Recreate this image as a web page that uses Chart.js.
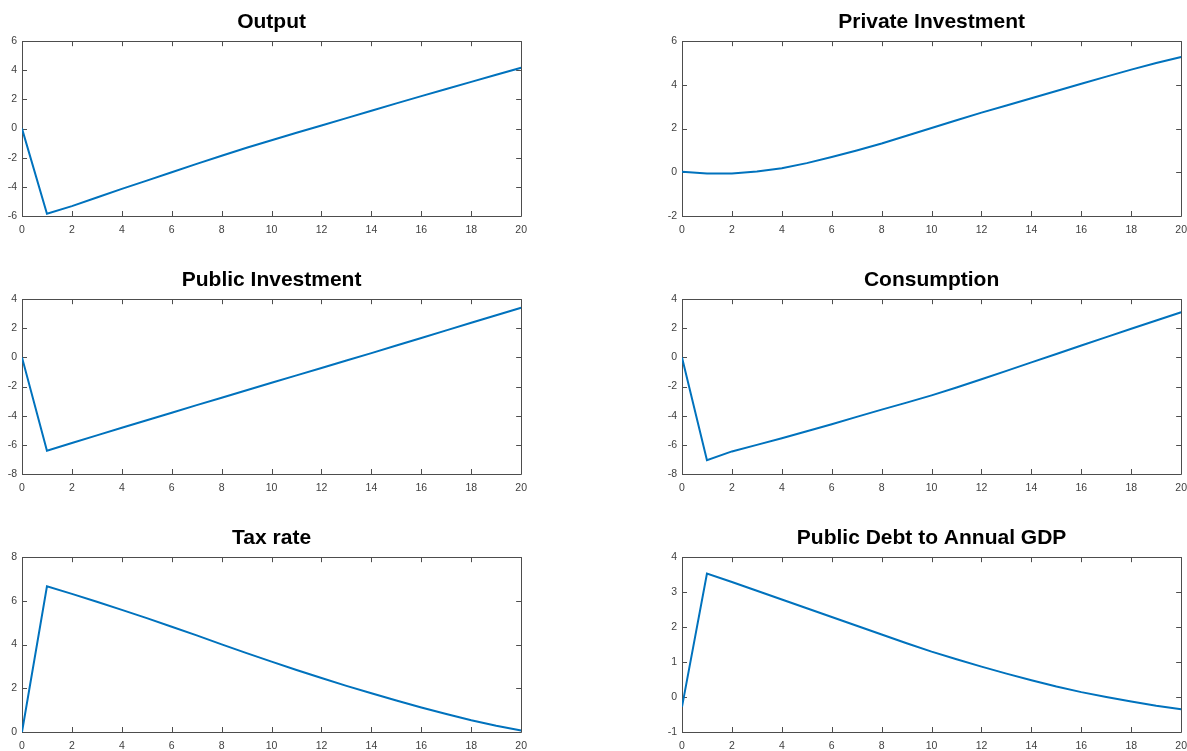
<!DOCTYPE html>
<html>
<head>
<meta charset="utf-8">
<script src="https://cdn.jsdelivr.net/npm/chart.js@4/dist/chart.umd.min.js"></script>
<style>
  html, body { margin: 0; padding: 0; background: #fff; overflow: hidden; width: 1187px; height: 751px; }
  canvas { position: absolute; }
</style>
</head>
<body>
<canvas id="output" width="535" height="238" style="left:0px;top:0px"></canvas>
<canvas id="privateInv" width="535" height="238" style="left:660px;top:0px"></canvas>
<canvas id="publicInv" width="535" height="238" style="left:0px;top:258px"></canvas>
<canvas id="consumption" width="535" height="238" style="left:660px;top:258px"></canvas>
<canvas id="taxRate" width="535" height="238" style="left:0px;top:516px"></canvas>
<canvas id="publicDebt" width="535" height="238" style="left:660px;top:516px"></canvas>
<script>
// impulse responses, horizon 0..20
var horizon = [0, 1, 2, 3, 4, 5, 6, 7, 8, 9, 10, 11, 12, 13, 14, 15, 16, 17, 18, 19, 20];
var horizonTicks = [0, 2, 4, 6, 8, 10, 12, 14, 16, 18, 20];

var output = [0, -5.85, -5.32, -4.73, -4.14, -3.57, -3.0, -2.42, -1.86, -1.32, -0.8, -0.29, 0.21, 0.72, 1.23, 1.73, 2.23, 2.72, 3.21, 3.7, 4.18];
var privateInv = [0.02, -0.05, -0.05, 0.04, 0.19, 0.42, 0.7, 1.0, 1.32, 1.67, 2.03, 2.38, 2.73, 3.06, 3.39, 3.72, 4.05, 4.38, 4.7, 5.0, 5.28];
var publicInv = [0, -6.4, -5.87, -5.35, -4.83, -4.31, -3.79, -3.27, -2.76, -2.25, -1.74, -1.23, -0.72, -0.21, 0.3, 0.82, 1.34, 1.86, 2.38, 2.9, 3.41];
var consumption = [0, -7.05, -6.45, -6.0, -5.55, -5.07, -4.58, -4.08, -3.58, -3.1, -2.6, -2.06, -1.5, -0.92, -0.34, 0.24, 0.82, 1.4, 1.97, 2.54, 3.1];
var taxRate = [0, 6.67, 6.32, 5.96, 5.59, 5.21, 4.82, 4.42, 4.01, 3.61, 3.22, 2.84, 2.47, 2.11, 1.77, 1.44, 1.12, 0.82, 0.54, 0.29, 0.07];
var publicDebt = [-0.28, 3.53, 3.29, 3.04, 2.79, 2.54, 2.29, 2.04, 1.79, 1.54, 1.3, 1.08, 0.87, 0.67, 0.48, 0.3, 0.14, 0.0, -0.13, -0.25, -0.35];

var outputTicks = [-6, -4, -2, 0, 2, 4, 6];
var privateInvTicks = [-2, 0, 2, 4, 6];
var publicInvTicks = [-8, -6, -4, -2, 0, 2, 4];
var consumptionTicks = [-8, -6, -4, -2, 0, 2, 4];
var taxRateTicks = [0, 2, 4, 6, 8];
var publicDebtTicks = [-1, 0, 1, 2, 3, 4];

var FONT = "'Liberation Sans', Arial, Helvetica, sans-serif";

// box around the axes with inward ticks on all four sides (matlab look)
const matlabBox = {
  id: 'matlabBox',
  beforeDatasetsDraw(chart) {
    const ctx = chart.ctx;
    const a = chart.chartArea;
    const x = chart.scales.x, y = chart.scales.y;
    const len = 5;
    ctx.save();
    ctx.strokeStyle = '#4d4d4d';
    ctx.lineWidth = 1;
    ctx.beginPath();
    x.ticks.forEach(t => {
      const px = Math.round(x.getPixelForValue(t.value)) + 0.5;
      ctx.moveTo(px, a.bottom); ctx.lineTo(px, a.bottom - len);
      ctx.moveTo(px, a.top); ctx.lineTo(px, a.top + len);
    });
    y.ticks.forEach(t => {
      const py = Math.round(y.getPixelForValue(t.value)) + 0.5;
      ctx.moveTo(a.left, py); ctx.lineTo(a.left + len, py);
      ctx.moveTo(a.right, py); ctx.lineTo(a.right - len, py);
    });
    ctx.rect(Math.round(a.left) + 0.5, Math.round(a.top) + 0.5,
             Math.round(a.right - a.left), Math.round(a.bottom - a.top));
    ctx.stroke();
    ctx.restore();
  }
};

function makePanel(id, title, values, yTicks) {
  new Chart(document.getElementById(id), {
    type: 'line',
    data: {
      datasets: [{
        data: horizon.map((h, i) => ({ x: h, y: values[i] })),
        borderColor: '#0072BD',
        borderWidth: 2,
        pointRadius: 0,
        tension: 0,
        fill: false
      }]
    },
    options: {
      responsive: false,
      animation: false,
      layout: { padding: { right: 12, bottom: 0 } },
      plugins: {
        legend: { display: false },
        tooltip: { enabled: false },
        title: {
          display: true,
          text: title,
          fullSize: false,
          color: '#000',
          font: { family: FONT, size: 21, weight: 'bold' },
          padding: { top: 10, bottom: 6 }
        }
      },
      scales: {
        x: {
          type: 'linear',
          min: horizonTicks[0],
          max: horizonTicks[horizonTicks.length - 1],
          afterBuildTicks: s => { s.ticks = horizonTicks.map(v => ({ value: v })); },
          afterFit: s => { s.height = 22; },
          grid: { display: false, drawTicks: false, tickLength: 0 },
          border: { display: false },
          ticks: { autoSkip: false, maxRotation: 0, padding: 8, color: '#404040', font: { family: FONT, size: 10.5 } }
        },
        y: {
          min: yTicks[0],
          max: yTicks[yTicks.length - 1],
          afterBuildTicks: s => { s.ticks = yTicks.map(v => ({ value: v })); },
          afterFit: s => { s.width = 22; },
          grid: { display: false, drawTicks: false, tickLength: 0 },
          border: { display: false },
          ticks: { padding: 5, color: '#404040', font: { family: FONT, size: 10.5 } }
        }
      }
    },
    plugins: [matlabBox]
  });
}

makePanel('output', 'Output', output, outputTicks);
makePanel('privateInv', 'Private Investment', privateInv, privateInvTicks);
makePanel('publicInv', 'Public Investment', publicInv, publicInvTicks);
makePanel('consumption', 'Consumption', consumption, consumptionTicks);
makePanel('taxRate', 'Tax rate', taxRate, taxRateTicks);
makePanel('publicDebt', 'Public Debt to Annual GDP', publicDebt, publicDebtTicks);
</script>
</body>
</html>
